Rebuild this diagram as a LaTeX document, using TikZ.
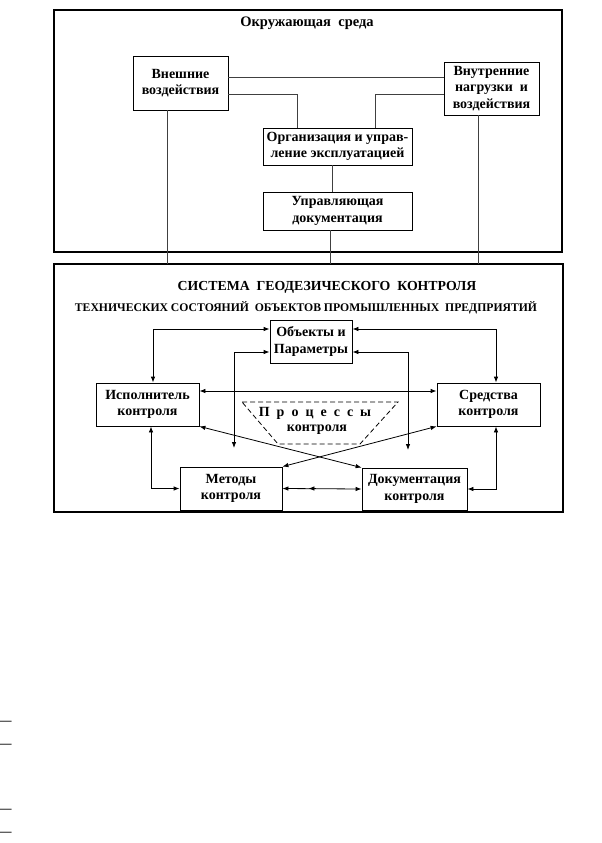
\documentclass[tikz,border=0pt]{standalone}
\usepackage{fontspec}
\setmainfont{Liberation Serif}
\usetikzlibrary{arrows.meta,calc}
\begin{document}
\begin{tikzpicture}[x=1pt,y=-1pt,
  box/.style={draw=black,line width=0.8pt,rectangle,inner sep=0pt,align=center,font=\bfseries\fontsize{14}{16.5}\selectfont},
  outer/.style={draw=black,line width=1.8pt},
  conn/.style={draw=black!75,line width=0.8pt},
  arr/.style={draw=black,line width=0.8pt,{Latex[length=6pt,width=4.5pt]}-{Latex[length=6pt,width=4.5pt]}},
  lbl/.style={inner sep=0pt,font=\bfseries\fontsize{14}{16.5}\selectfont,align=center},
  dashmark/.style={inner sep=0pt,font=\bfseries\fontsize{12}{14}\selectfont}
]
\useasboundingbox (0,0) rectangle (602,843);
\fill[white] (0,0) rectangle (602,843);

% outer boxes
\draw[outer] (54,10) rectangle (562,252);
\coordinate (envS) at (0,252);
\draw[outer] (54,264) rectangle (563,512);
\coordinate (sysN) at (0,264);

\node[lbl,font=\bfseries\fontsize{14.5}{16.5}\selectfont] (envt) at (307,23) {Окружающая\ \ среда};

\node[box,minimum width=95pt,minimum height=54pt] (vn) at (180.5,83) {Внешние\\воздействия};
\node[box,minimum width=95pt,minimum height=53pt] (vt) at (491.5,88.5) {Внутренние\\нагрузки\ \ и\\воздействия};
\node[box,minimum width=149pt,minimum height=37pt] (org) at (337.5,146.5) {Организация и управ-\\ление эксплуатацией};
\node[box,minimum width=149pt,minimum height=38pt] (upr) at (337.5,211) {Управляющая\\документация};

\draw[conn] ([yshift=6pt]vn.east) coordinate (p1) -- (vt.west |- p1);
\draw[conn] ([yshift=-11pt]vn.east) -| ([xshift=-40.5pt]org.north);
\draw[conn] ([yshift=-5.5pt]vt.west) -| ([xshift=37.5pt]org.north);
\draw[conn] ([xshift=-5pt]org.south) -- ([xshift=-5pt]upr.north);
\draw[conn] ([xshift=-7pt]upr.south) coordinate (p2) -- (p2 |- sysN);
\draw[conn] ([xshift=-13.5pt]vn.south) coordinate (p3) -- (p3 |- sysN);
\draw[conn] ([xshift=-13.5pt]vt.south) coordinate (p4) -- (p4 |- sysN);

% system
\node[inner sep=0pt,font=\bfseries\fontsize{13.8}{16}\selectfont] (syst1) at (327,287) {СИСТЕМА\ \ ГЕОДЕЗИЧЕСКОГО\ \ КОНТРОЛЯ};
\node[inner sep=0pt,font=\bfseries\fontsize{11.7}{13}\selectfont] (syst2) at (306,308) {ТЕХНИЧЕСКИХ СОСТОЯНИЙ\ \ ОБЪЕКТОВ ПРОМЫШЛЕННЫХ\ \ ПРЕДПРИЯТИЙ};

\node[box,minimum width=82pt,minimum height=43pt] (obj) at (311,341.5) {Объекты и\\Параметры};
\node[box,minimum width=103pt,minimum height=43pt] (isp) at (147.5,404.5) {Исполнитель\\контроля};
\node[box,minimum width=103pt,minimum height=43pt] (sred) at (488.5,404.5) {Средства\\контроля};
\node[box,minimum width=102pt,minimum height=43pt] (met) at (231,488.5) {Методы\\контроля};
\node[box,minimum width=105pt,minimum height=42pt] (doc) at (414.5,489) {Документация\\контроля};

\draw[dashed,line width=0.8pt,dash pattern=on 5pt off 3pt] (242,402) -- (398,402) -- (360,444) -- (278,444) -- cycle;
\node[lbl] (pr1) at (315,413) {П\ \ р\ \ о\ \ ц\ \ е\ \ с\ \ с\ \ ы};
\node[lbl] (pr2) at (317,430) {контроля};

\coordinate (m1) at (234,448);
\coordinate (m2) at (408,450);

\draw[arr] ([xshift=5.5pt]isp.north) |- ([yshift=12.5pt]obj.west);
\draw[arr] (m1) |- ([yshift=-10.5pt]obj.west);
\draw[arr] ([xshift=7.5pt]sred.north) |- ([yshift=12.5pt]obj.east);
\draw[arr] (m2) |- ([yshift=-10.5pt]obj.east);
\draw[arr] ([yshift=13.5pt]isp.east) -- ([yshift=13.5pt]sred.west);
\draw[arr] (isp.south east) -- (doc.north west);
\draw[arr] (sred.south west) -- (met.north east);
\draw[arr] ([xshift=3.5pt]isp.south) |- (met.west);
\draw[arr] ([xshift=7.5pt]sred.south) |- (doc.east);
\draw[arr] (met.east) -- (doc.west);
\draw[line width=0.8pt,{Latex[length=6pt,width=4.5pt]}-] ([xshift=26pt]met.east) -- ([xshift=34pt]met.east);

% margin dashes
\node[dashmark] (d1) at (5.5,723) {—};
\node[dashmark] (d2) at (5.5,746) {—};
\node[dashmark] (d3) at (5.5,811) {—};
\node[dashmark] (d4) at (5.5,834) {—};
\end{tikzpicture}
\end{document}
